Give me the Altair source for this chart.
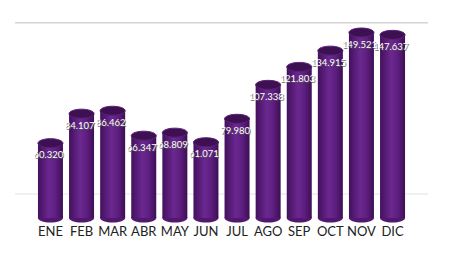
import altair as alt
import pandas as pd

months = ["ENE", "FEB", "MAR", "ABR", "MAY", "JUN", "JUL", "AGO", "SEP", "OCT", "NOV", "DIC"]
values = [60.320, 84.107, 86.462, 66.347, 68.809, 61.071, 79.980, 107.338, 121.803, 134.915, 149.521, 147.637]
grid_values = [20, 158]
grid_colors = ["#ececec", "#d4d4d4"]

df = pd.DataFrame({"mes": months, "valor": values})
gdf = pd.DataFrame({"g": grid_values, "c": grid_colors})

ellipse = "M -1 0 A 1 0.36 0 1 1 1 0 A 1 0.36 0 1 1 -1 0 Z"

xenc = alt.X("mes:N", sort=months,
             scale=alt.Scale(paddingInner=0.12, paddingOuter=0.7),
             axis=alt.Axis(title=None, domain=False, ticks=False, grid=False,
                           labelAngle=0, labelFont="Lato", labelFontSize=13,
                           labelColor="#222222", labelPadding=7))
yscale = alt.Scale(domain=[0, 158], nice=False)
yenc = alt.Y("valor:Q", scale=yscale, axis=None)

base = alt.Chart(df).encode(x=xenc)

grid = alt.Chart(gdf).mark_rect(strokeWidth=0).encode(
    y=alt.Y("g:Q", scale=yscale, axis=None),
    y2="g2:Q",
    color=alt.Color("c:N", scale=None, legend=None),
).transform_calculate(g2="datum.g - 1.2")

bottom = base.mark_point(shape=ellipse, size=625, filled=True, opacity=1,
                         color="#52176e").encode(
    y=alt.Y("zero:Q", scale=yscale, axis=None)).transform_calculate(zero="0")

gradient = alt.Gradient(
    gradient="linear", x1=0, x2=1, y1=0, y2=0,
    stops=[alt.GradientStop(offset=0, color="#43105c"),
           alt.GradientStop(offset=0.45, color="#6a2890"),
           alt.GradientStop(offset=0.7, color="#5e1f80"),
           alt.GradientStop(offset=1, color="#3e0e55")])

body = base.mark_bar(size=25, color=gradient).encode(y=yenc, y2=alt.datum(0))

cap = base.mark_point(shape=ellipse, size=625, filled=True, opacity=1,
                      color="#3d1052", stroke="#5a2178", strokeWidth=1).encode(y=yenc)

shadow_txt = base.mark_text(dy=13, dx=-1, color="#555555", font="Lato",
                            fontSize=9.5, opacity=0.8).encode(
    y=yenc, text=alt.Text("valor:Q", format=".3f"))
txt = base.mark_text(dy=12, dx=-2, color="#ffffff", font="Lato",
                     fontSize=9.5).encode(
    y=yenc, text=alt.Text("valor:Q", format=".3f"))

chart = alt.layer(grid, bottom, body, cap, shadow_txt, txt).properties(
    width=413, height=196,
    autosize=alt.AutoSizeParams(type="none"),
    padding={"left": 15, "top": 22, "right": 32, "bottom": 53},
).configure(background="#ffffff").configure_view(
    stroke="transparent", strokeWidth=0)

chart.save("out.html", embed_options={"renderer": "svg", "actions": False})
